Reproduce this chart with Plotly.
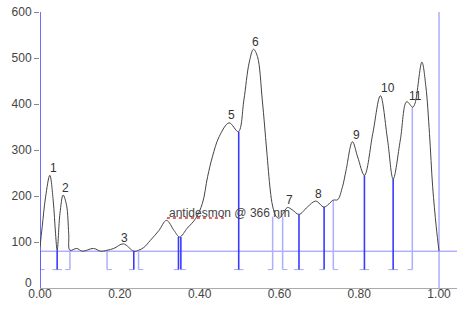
import plotly.graph_objects as go

# Densitogram curve (Rf, response)
curve_x = [0.000, 0.0055, 0.014, 0.0246, 0.033, 0.039, 0.043, 0.050, 0.058, 0.0665, 0.072, 0.075,
           0.092, 0.106, 0.134, 0.152, 0.168, 0.185, 0.209, 0.235, 0.247, 0.260, 0.276, 0.298,
           0.317, 0.336, 0.350, 0.369, 0.390, 0.407, 0.420, 0.432, 0.449, 0.474, 0.497, 0.511,
           0.524, 0.535, 0.545, 0.557, 0.568, 0.577, 0.583, 0.592, 0.600, 0.608, 0.620, 0.632,
           0.649, 0.670, 0.691, 0.712, 0.735, 0.746, 0.758, 0.767, 0.783, 0.796, 0.813, 0.834,
           0.853, 0.871, 0.885, 0.903, 0.919, 0.934, 0.940, 0.957, 0.967, 0.976, 0.984, 0.993, 1.000]
curve_y = [89, 133, 198, 245, 191, 118, 82, 162, 202, 180, 118, 82,
           86, 80, 86, 80, 82, 86, 96, 80, 82, 88, 103, 125,
           147, 125, 111, 130, 151, 184, 242, 285, 329, 359, 340, 409,
           489, 519, 503, 409, 300, 213, 178, 155, 152, 160, 175, 170,
           160, 176, 189, 176, 191, 192, 220, 256, 318, 285, 245, 336,
           418, 322, 237, 322, 405, 393, 402, 491, 438, 336, 220, 133, 80]

# Peak labels
peak_names = ["1", "2", "3", "5", "6", "7", "8", "9", "10", "11"]
peak_lx = [0.033, 0.064, 0.212, 0.480, 0.541, 0.626, 0.697, 0.792, 0.871, 0.940]
peak_ly = [260, 217, 109, 377, 534, 191, 205, 332, 434, 418]

# Peak boundary markers: position, top value, kind (S=start, E=end, B=both), strength (1 dark, 0 light)
mark_x = [0.000, 0.043, 0.075, 0.168, 0.235, 0.247, 0.347, 0.353, 0.498, 0.583, 0.608,
          0.649, 0.712, 0.735, 0.813, 0.885, 0.933]
mark_top = [80, 82, 82, 82, 80, 82, 111, 111, 340, 155, 155, 160, 176, 191, 245, 237, 393]
mark_kind = ["S", "B", "E", "S", "E", "S", "E", "S", "B", "E", "S", "B", "E", "S", "B", "B", "E"]
mark_dark = [0, 1, 0, 0, 1, 0, 1, 1, 1, 0, 0, 1, 1, 0, 1, 1, 0]

baseline_y = 80
mark_bottom = 40
x_ticks = [0.0, 0.2, 0.4, 0.6, 0.8, 1.0]
x_ticklabels = ["0.00", "0.20", "0.40", "0.60", "0.80", "1.00"]
y_ticks = [100, 200, 300, 400, 500, 600]
label_text = "antidesmon @ 366 nm"

DARK = "#3a3aff"
LIGHT = "#aeaeff"
SERIF = "#a6a6ff"
serif = 0.012
FONT = "Liberation Sans, Arial"

fig = go.Figure()

# baseline
fig.add_trace(go.Scatter(x=[0, 1.05], y=[baseline_y, baseline_y], mode="lines",
                         line=dict(color="#8c8cff", width=1), hoverinfo="skip", showlegend=False))

# serifs
sx, sy = [], []
for x, k in zip(mark_x, mark_kind):
    left = x - serif if k in ("E", "B") else x
    right = x + serif if k in ("S", "B") else x
    sx += [left, right, None]
    sy += [mark_bottom, mark_bottom, None]
fig.add_trace(go.Scatter(x=sx, y=sy, mode="lines", line=dict(color=SERIF, width=1),
                         hoverinfo="skip", showlegend=False))

for dark_flag, col, w in [(0, LIGHT, 1.5), (1, DARK, 1.6)]:
    xs, ys = [], []
    for x, t, d in zip(mark_x, mark_top, mark_dark):
        if d != dark_flag:
            continue
        xs += [x, x, None]
        ys += [t, mark_bottom, None]
    fig.add_trace(go.Scatter(x=xs, y=ys, mode="lines", line=dict(color=col, width=w),
                             hoverinfo="skip", showlegend=False))

# start/end full lines
fig.add_trace(go.Scatter(x=[1.0, 1.0], y=[0, 600], mode="lines",
                         line=dict(color=LIGHT, width=1.5), hoverinfo="skip", showlegend=False))
fig.add_trace(go.Scatter(x=[0.0, 0.0], y=[0, 600], mode="lines",
                         line=dict(color="#3c3cff", width=1.5), hoverinfo="skip", showlegend=False))

# curve
fig.add_trace(go.Scatter(x=curve_x, y=curve_y, mode="lines",
                         line=dict(color="#444444", width=1, shape="spline", smoothing=1.0),
                         hoverinfo="skip", showlegend=False))

for n, x, y in zip(peak_names, peak_lx, peak_ly):
    fig.add_annotation(x=x, y=y, text=n, showarrow=False,
                       font=dict(family=FONT, size=12, color="#333333"))

fig.add_annotation(x=0.318, y=162, text=label_text, showarrow=False, xanchor="left",
                   font=dict(family=FONT, size=12, color="#444444"))
fig.add_shape(type="line", x0=0.318, x1=0.468, y0=152, y1=152,
              line=dict(color="#e03030", width=1.5, dash="dot"))

# y "0" label sits slightly raised above the x axis in the reference
fig.add_annotation(x=0, xref="paper", y=0, yref="y", text="0", showarrow=False,
                   xanchor="right", xshift=-6, yshift=5,
                   font=dict(family=FONT, size=12, color="#444444"))

fig.update_layout(
    width=457, height=326,
    margin=dict(l=40, r=0, t=12, b=38, autoexpand=False),
    paper_bgcolor="white", plot_bgcolor="white",
    font=dict(family=FONT, size=12, color="#444444"),
    xaxis=dict(range=[0, 1.045], tickvals=x_ticks, ticktext=x_ticklabels,
               showgrid=False, zeroline=False, showline=True, linecolor="#aaaaaa",
               linewidth=1, ticks="", ticklabelstandoff=-5, fixedrange=True),
    yaxis=dict(range=[0, 600], tickvals=y_ticks, showgrid=False, zeroline=False,
               showline=False, ticks="outside", ticklen=5, tickcolor="#888888",
               fixedrange=True),
)

fig.write_html("out.html", config={"displayModeBar": False},
               post_script="document.body.style.margin='0px';")
